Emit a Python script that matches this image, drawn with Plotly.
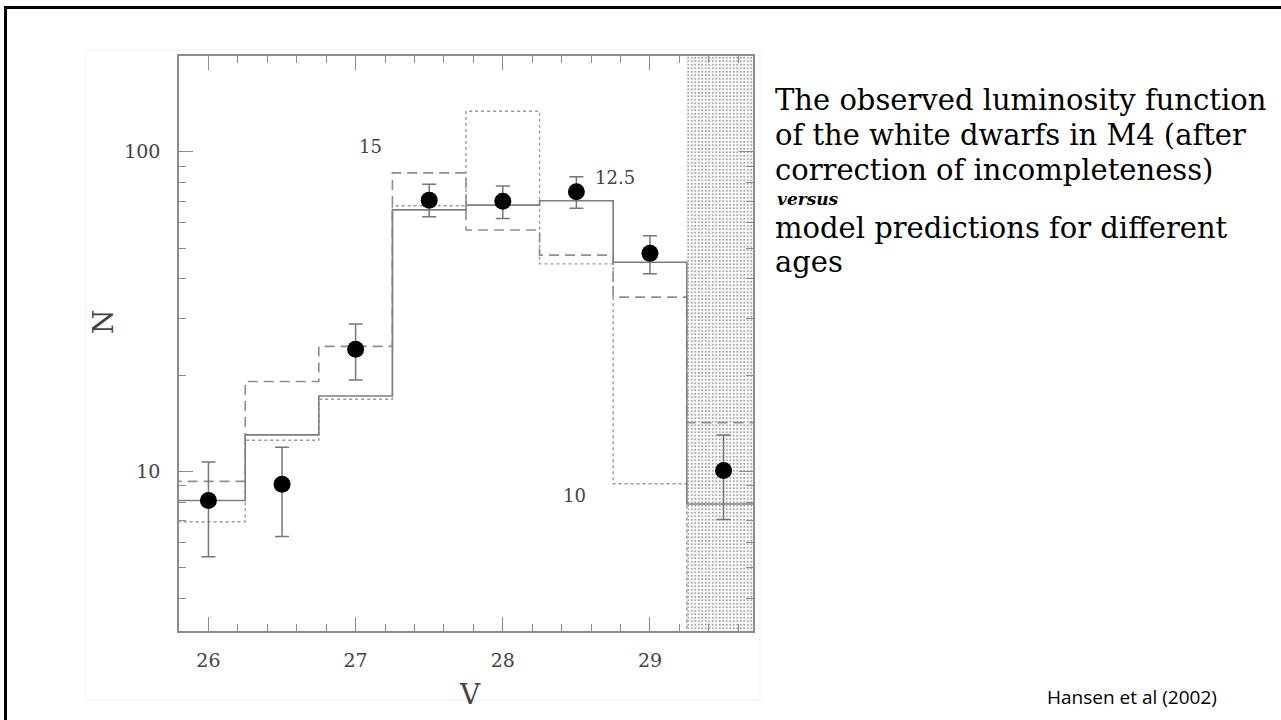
import math
import plotly.graph_objects as go

# Observed white-dwarf luminosity function in M4 (V magnitude bins, counts N)
V_bins = [26.0, 26.5, 27.0, 27.5, 28.0, 28.5, 29.0, 29.5]
N_obs = [8.1, 9.1, 24.1, 70.6, 70.0, 75.0, 48.1, 10.05]
N_obs_hi = [10.7, 11.9, 28.9, 79.1, 78.2, 83.5, 54.6, 13.0]
N_obs_lo = [5.4, 6.25, 19.3, 62.6, 61.8, 66.6, 41.5, 7.06]

# Model histograms for cluster ages of 15, 12.5 and 10 Gyr
bin_edges = [25.75, 26.25, 26.75, 27.25, 27.75, 28.25, 28.75, 29.25, 29.75]
N_age15 = [9.3, 19.1, 24.6, 85.9, 56.9, 47.5, 35.1, 14.2]
N_age125 = [8.1, 13.0, 17.2, 65.8, 68.1, 70.3, 45.1, 7.9]
N_age10 = [6.95, 12.5, 16.8, 67.8, 134.0, 44.6, 9.14, 2.0]

# Age labels placed next to the curves
age_labels = ["15", "12.5", "10"]
age_label_V = [27.1, 28.76, 28.49]
age_label_N = [104, 83, 8.4]

# Magnitude beyond which the sample is incomplete
V_incomplete = 29.25

x_range = [25.8, 29.7]
y_log_range = [0.5, 2.3]

W, H = 1281, 720
L, R, T, B = 179, 753, 56, 631


def px_x(px):
    return (px - L) / (R - L)


def px_y(py):
    return (B - py) / (B - T)


AX = "#8c8c8c"
TXT = "#444444"
SERIF = "DejaVu Serif"

fig = go.Figure()

# stippled incompleteness zone
fig.add_trace(go.Scatter(
    x=[V_incomplete, 30.0, 30.0, V_incomplete, V_incomplete],
    y=[1, 1, 1000, 1000, 1],
    mode="lines", line=dict(width=0), fill="toself",
    fillcolor="rgba(0,0,0,0)",
    fillpattern=dict(shape=".", size=3.5, solidity=0.35,
                     fgcolor="#5a5a5a", bgcolor="white"),
    hoverinfo="skip", showlegend=False,
))


def steps(values):
    return bin_edges, list(values) + [values[-1]]


for vals, dash, width, color in [
    (N_age10, "dot", 1.4, "#9a9a9a"),
    (N_age15, "10px,6px", 1.6, "#8f8f8f"),
    (N_age125, "solid", 1.6, "#7f7f7f"),
]:
    xs, ys = steps(vals)
    fig.add_trace(go.Scatter(
        x=xs, y=ys, mode="lines", line_shape="hv",
        line=dict(color=color, width=width, dash=dash),
        hoverinfo="skip", showlegend=False,
    ))

fig.add_trace(go.Scatter(
    x=V_bins, y=N_obs, mode="markers",
    marker=dict(color="black", size=17),
    error_y=dict(
        type="data", symmetric=False,
        array=[h - n for h, n in zip(N_obs_hi, N_obs)],
        arrayminus=[n - l for n, l in zip(N_obs, N_obs_lo)],
        color="#777777", thickness=1.5, width=7,
    ),
    showlegend=False,
))

for lab, xv, yv in zip(age_labels, age_label_V, age_label_N):
    fig.add_annotation(x=xv, y=math.log10(yv), xref="x", yref="y", text=lab,
                       showarrow=False, xanchor="center", yanchor="middle",
                       font=dict(family=SERIF, size=18, color=TXT))

fig.update_xaxes(
    range=x_range, showline=True, linecolor=AX, linewidth=1.5, mirror="allticks",
    ticks="inside", ticklen=14, tickwidth=1.2, tickcolor=AX,
    tickvals=[26, 27, 28, 29], ticktext=["26", "27", "28", "29"],
    minor=dict(ticks="inside", ticklen=7, tickwidth=1.2, tickcolor=AX, dtick=0.2, tick0=26),
    showgrid=False, zeroline=False,
    tickfont=dict(family=SERIF, size=19, color=TXT),
    ticklabelstandoff=11,
)
fig.update_yaxes(
    type="log", range=y_log_range, showline=True, linecolor=AX, linewidth=1.5,
    mirror="allticks", ticks="inside", ticklen=14, tickwidth=1.2, tickcolor=AX,
    tickvals=[10, 100], ticktext=["10", "100"],
    minor=dict(ticks="inside", ticklen=7, tickwidth=1.2, tickcolor=AX,
               tickvals=[4, 5, 6, 7, 8, 9, 20, 30, 40, 50, 60, 70, 80, 90]),
    showgrid=False, zeroline=False,
    tickfont=dict(family=SERIF, size=19, color=TXT),
    ticklabelstandoff=13,
)

# axis titles
fig.add_annotation(xref="paper", yref="paper", x=px_x(470), y=px_y(694),
                   xanchor="center", yanchor="middle",
                   text="V", showarrow=False,
                   font=dict(family=SERIF, size=28, color=TXT))
fig.add_annotation(xref="paper", yref="paper", x=px_x(103), y=px_y(322),
                   xanchor="center", yanchor="middle",
                   text="N", textangle=-90, showarrow=False,
                   font=dict(family=SERIF, size=28, color=TXT))

# descriptive text
lines = [
    ("The observed luminosity function", 100),
    ("of the white dwarfs in M4 (after", 135),
    ("correction of incompleteness)", 170),
    ("model predictions for different", 228),
    ("ages", 262),
]
for txt, yc in lines:
    fig.add_annotation(xref="paper", yref="paper", x=px_x(773), y=px_y(yc),
                       xanchor="left", yanchor="middle", text=txt, showarrow=False,
                       font=dict(family=SERIF, size=29, color="black"))
fig.add_annotation(xref="paper", yref="paper", x=px_x(775), y=px_y(199),
                   xanchor="left", yanchor="middle", text="<b><i>versus</i></b>",
                   showarrow=False,
                   font=dict(family=SERIF, size=17, color="black"))
fig.add_annotation(xref="paper", yref="paper", x=px_x(1045), y=px_y(697),
                   xanchor="left", yanchor="middle", text="Hansen et al (2002)",
                   showarrow=False,
                   font=dict(family="Open Sans", size=19, color="black"))

# slide frame and faint border of the figure inset
fig.add_shape(type="rect", xref="paper", yref="paper",
              x0=px_x(86), x1=px_x(760), y0=px_y(700), y1=px_y(50),
              line=dict(color="#f2f2f2", width=1), layer="below")
fig.add_shape(type="line", xref="paper", yref="paper",
              x0=px_x(4), x1=px_x(1290), y0=px_y(7.5), y1=px_y(7.5),
              line=dict(color="black", width=3))
fig.add_shape(type="line", xref="paper", yref="paper",
              x0=px_x(5.5), x1=px_x(5.5), y0=px_y(6), y1=px_y(730),
              line=dict(color="black", width=3))

fig.update_layout(
    width=W, height=H,
    margin=dict(l=L, r=W - R, t=T, b=H - B),
    paper_bgcolor="white", plot_bgcolor="white",
    showlegend=False,
)

fig.write_html("out.html")
